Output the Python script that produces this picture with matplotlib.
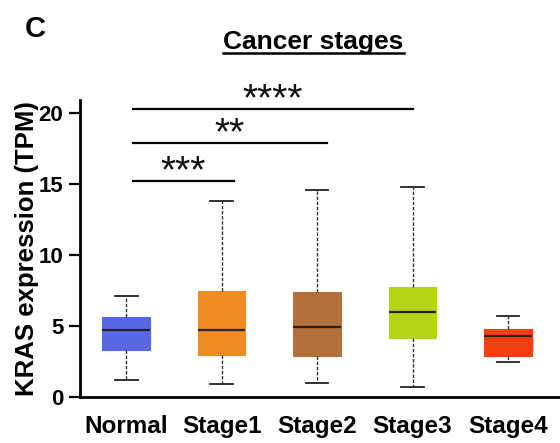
import matplotlib
matplotlib.use("Agg")
import matplotlib.pyplot as plt
from matplotlib.lines import Line2D

groups = ["Normal", "Stage1", "Stage2", "Stage3", "Stage4"]
whislo = [1.2, 0.9, 1.0, 0.7, 2.45]
q1 = [3.3, 2.95, 2.9, 4.15, 2.9]
med = [4.7, 4.7, 4.95, 5.95, 4.3]
q3 = [5.65, 7.45, 7.4, 7.75, 4.8]
whishi = [7.1, 13.8, 14.6, 14.75, 5.7]
colors = ["#5a68e6", "#f08b22", "#b3703a", "#b5d418", "#f2400f"]

# significance brackets: (start, end, height, label)
sig_start = [1.07, 1.07, 1.07]
sig_end = [2.13, 3.1, 4.0]
sig_y = [15.2, 17.9, 20.3]
sig_label = ["***", "**", "****"]

plt.rcParams["font.family"] = ["Liberation Sans", "DejaVu Sans"]

fig = plt.figure(figsize=(5.6, 4.43), dpi=100)
ax = fig.add_axes([0.143, 0.104, 0.857, 0.670])

stats = []
for i, g in enumerate(groups):
    stats.append({"label": g, "whislo": whislo[i], "q1": q1[i], "med": med[i],
                  "q3": q3[i], "whishi": whishi[i], "fliers": []})
pos = list(range(1, len(groups) + 1))
bp = ax.bxp(stats, positions=pos, widths=0.5, patch_artist=True, showfliers=False,
            boxprops=dict(linewidth=0.8),
            medianprops=dict(color="#222222", linewidth=1.6),
            whiskerprops=dict(color="#333333", linewidth=1.0, linestyle=(0, (2.5, 1.2))),
            capprops=dict(color="#222222", linewidth=1.3), capwidths=0.24)
for patch, c in zip(bp["boxes"], colors):
    patch.set_facecolor(c)
    patch.set_edgecolor(c)

for x0, x1, y, lab in zip(sig_start, sig_end, sig_y, sig_label):
    ax.plot([x0, x1], [y, y], color="black", lw=1.6, clip_on=False)
    ax.text((x0 + x1) / 2, y - 0.65, lab, ha="center", va="bottom", fontsize=28,
            color="#111111")

ax.set_xlim(0.518, 5.545)
ax.set_ylim(0, 20.9)
ax.set_yticks([0, 5, 10, 15, 20])
ax.tick_params(axis="y", labelsize=16, width=1.6, length=8, pad=4)
ax.tick_params(axis="x", length=0, labelsize=17.5, pad=13)
for lab in ax.get_xticklabels() + ax.get_yticklabels():
    lab.set_fontweight("bold")
ax.set_ylabel("KRAS expression (TPM)", fontsize=18.5, fontweight="bold", labelpad=-0.5)
for side in ("top", "right"):
    ax.spines[side].set_visible(False)
ax.spines["left"].set_linewidth(2)
ax.spines["bottom"].set_linewidth(2)

fig.text(0.045, 0.935, "C", fontsize=21, fontweight="bold", va="center", ha="left")
title = fig.text(0.56, 0.905, "Cancer stages", fontsize=19, fontweight="bold",
                 ha="center", va="center")
fig.canvas.draw()
bb = title.get_window_extent().transformed(fig.transFigure.inverted())
fig.add_artist(Line2D([bb.x0, bb.x1], [bb.y0 + 0.002, bb.y0 + 0.002],
                      transform=fig.transFigure, color="black", lw=1.8))

fig.savefig("out.png", dpi=100)
